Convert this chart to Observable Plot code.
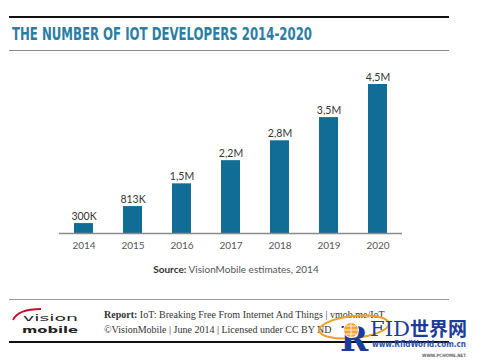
<!DOCTYPE html>
<html><head><meta charset="utf-8">
<script src="https://cdn.jsdelivr.net/npm/d3@7"></script>
<script src="https://cdn.jsdelivr.net/npm/@observablehq/plot@0.6"></script>
<style>
html,body{margin:0;padding:0;background:#fff;}
#wrap{position:relative;width:477px;height:363px;overflow:hidden;font-family:Lato,"Open Sans",sans-serif;}
.abs{position:absolute;}
</style></head>
<body><div id="wrap">
<div class="abs" style="left:9px;top:16px;width:440px;height:2px;background:#111"></div>
<svg class="abs" style="left:0;top:20px" width="477" height="28">
  <text x="12" y="20" textLength="300" lengthAdjust="spacingAndGlyphs" font-family="'Liberation Sans Narrow','DejaVu Sans Condensed',sans-serif" font-weight="bold" font-size="17.5" fill="#2b7ea3">THE NUMBER OF IOT DEVELOPERS 2014-2020</text>
</svg>
<div class="abs" style="left:9px;top:50px;width:440px;height:1px;background:#8a8a8a"></div>
<div id="chart" class="abs" style="left:0;top:55px"></div>
<div class="abs" style="left:0;top:263px;width:472px;text-align:center;font-size:10px;color:#555"><b style="color:#333">Source:</b> VisionMobile estimates, 2014</div>
<div class="abs" style="left:9px;top:299px;width:440px;height:1px;background:#999"></div>
<svg class="abs" style="left:8px;top:303px" width="80" height="34">
  <path d="M5 17 Q10 6 33 6" stroke="#c8102e" stroke-width="1.8" fill="none"/>
  <text x="15" y="18" textLength="55" lengthAdjust="spacingAndGlyphs" font-family="'DejaVu Sans',sans-serif" font-size="9.5" fill="#222">vision</text>
  <text x="14" y="30" textLength="56" lengthAdjust="spacingAndGlyphs" font-family="'DejaVu Sans',sans-serif" font-weight="bold" font-size="9.5" fill="#222">mobile</text>
</svg>
<div class="abs" style="left:104px;top:307px;font-family:'Liberation Serif','DejaVu Serif',serif;font-size:10px;color:#333;line-height:15px;white-space:nowrap">
<div><b>Report:</b> IoT: Breaking Free From Internet And Things | vmob.me/IoT</div>
<div>©VisionMobile | June 2014 | Licensed under CC BY ND</div>
</div>
<div class="abs" style="left:9px;top:341px;width:440px;height:2px;background:#111"></div>
<svg class="abs" style="left:310px;top:300px" width="167" height="63">
  <ellipse cx="44" cy="27" rx="35" ry="11" transform="rotate(-6 44 27)" fill="none" stroke="#f0a020" stroke-width="2"/>
  <text x="30" y="51" font-family="'DejaVu Serif',serif" font-weight="bold" font-size="34" fill="#1d3b9a">R</text>
  <circle cx="41" cy="30" r="7.5" fill="#f3a530" stroke="#fff" stroke-width="1"/>
  <path d="M34 30 H48 M41 23 V37 M36 26 H46 M36 34 H46" stroke="#fff" stroke-width="0.8"/>
  <text x="60" y="36" textLength="40" lengthAdjust="spacingAndGlyphs" font-family="'DejaVu Serif',serif" font-size="20" fill="#1d3b9a">FID</text>
  <text x="100" y="36" textLength="57" lengthAdjust="spacingAndGlyphs" font-family="'Noto Sans CJK SC',sans-serif" font-weight="bold" font-size="19" fill="#1d3b9a">世界网</text>
  <text x="62" y="47" textLength="94" lengthAdjust="spacingAndGlyphs" font-family="'DejaVu Sans',sans-serif" font-weight="bold" font-size="8" fill="#2b55b0">www.RfidWorld.com.cn</text>
  <text x="112" y="57" textLength="44" lengthAdjust="spacingAndGlyphs" font-family="'DejaVu Sans',sans-serif" font-weight="bold" font-size="4.5" fill="#666">WWW.PCHOME.NET</text>
</svg>
</div>
<script>
const years = ["2014","2015","2016","2017","2018","2019","2020"];
const developers = [0.3, 0.813, 1.5, 2.2, 2.8, 3.5, 4.5];
const valueLabels = ["300K","813K","1,5M","2,2M","2,8M","3,5M","4,5M"];
const data = years.map((y,i)=>({year:y, value:developers[i], label:valueLabels[i]}));
const chart = Plot.plot({
  width: 477, height: 200,
  marginLeft: 59, marginRight: 75, marginTop: 29, marginBottom: 22,
  style: {fontFamily: "Lato, 'Open Sans', sans-serif", background: "transparent"},
  x: {domain: years, paddingInner: 0.61, paddingOuter: 0.305, label: null, tickSize: 0, tickPadding: 8},
  y: {domain: [0, 4.5], axis: null},
  marks: [
    Plot.barY(data, {x: "year", y: "value", fill: "#126d96"}),
    Plot.ruleY([0], {stroke: "#8a8a8a", strokeWidth: 1.5}),
    Plot.text(data, {x: "year", y: "value", text: "label", lineAnchor: "bottom", dy: -4, fontSize: 10.5, fill: "#333"}),
    Plot.axisX({tickSize: 0, tickPadding: 8, fontSize: 10, color: "#555", label: null})
  ]
});
document.getElementById("chart").appendChild(chart);
</script>
</body></html>
